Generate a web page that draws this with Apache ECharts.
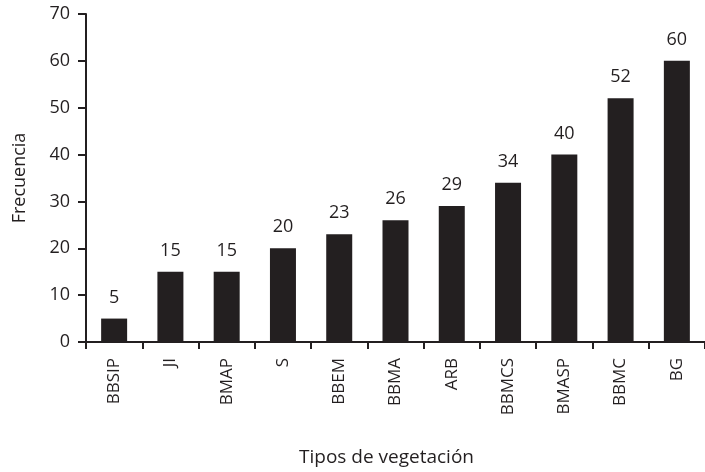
<!DOCTYPE html>
<html><head><meta charset="utf-8">
<script src="https://cdn.jsdelivr.net/npm/echarts@6/dist/echarts.min.js"></script>
<style>html,body{margin:0;padding:0;background:#fff}#c{width:705px;height:472px}</style>
</head><body><div id="c"></div>
<script>
var categories = ['BBSIP','JI','BMAP','S','BBEM','BBMA','ARB','BBMCS','BMASP','BBMC','BG'];
var values = [5,15,15,20,23,26,29,34,40,52,60];
var yTicks = {min:0, max:70, interval:10};
var FONT = 'Open Sans';
var INK = '#231f20';
var chart = echarts.init(document.getElementById('c'), null, {renderer:'canvas'});
chart.setOption({
  animation:false,
  backgroundColor:'#fff',
  grid:{left:86, top:14, width:627, height:328, containLabel:false},
  xAxis:{
    type:'category', data:categories,
    name:'Tipos de vegetación', nameLocation:'middle', nameGap:106,
    nameTextStyle:{fontFamily:FONT, fontSize:19, color:INK, padding:[0,18,0,0]},
    axisLine:{lineStyle:{color:INK, width:2}},
    axisTick:{show:true, length:7, lineStyle:{color:INK, width:2}, alignWithLabel:false},
    axisLabel:{rotate:90, margin:16, fontFamily:FONT, fontSize:17, color:INK, interval:0}
  },
  yAxis:{
    type:'value', min:yTicks.min, max:yTicks.max, interval:yTicks.interval,
    name:'Frecuencia', nameLocation:'middle', nameGap:57, nameRotate:90,
    nameTextStyle:{fontFamily:FONT, fontSize:18, color:INK},
    splitLine:{show:false},
    axisLine:{show:true, lineStyle:{color:INK, width:2}},
    axisTick:{show:true, length:8, lineStyle:{color:INK, width:2}},
    axisLabel:{margin:16, fontFamily:FONT, fontSize:18, color:INK}
  },
  series:[{
    type:'bar', data:values, barWidth:26,
    itemStyle:{color:INK},
    label:{show:true, position:'top', distance:12, fontFamily:FONT, fontSize:18, color:INK}
  }]
});
</script></body></html>
